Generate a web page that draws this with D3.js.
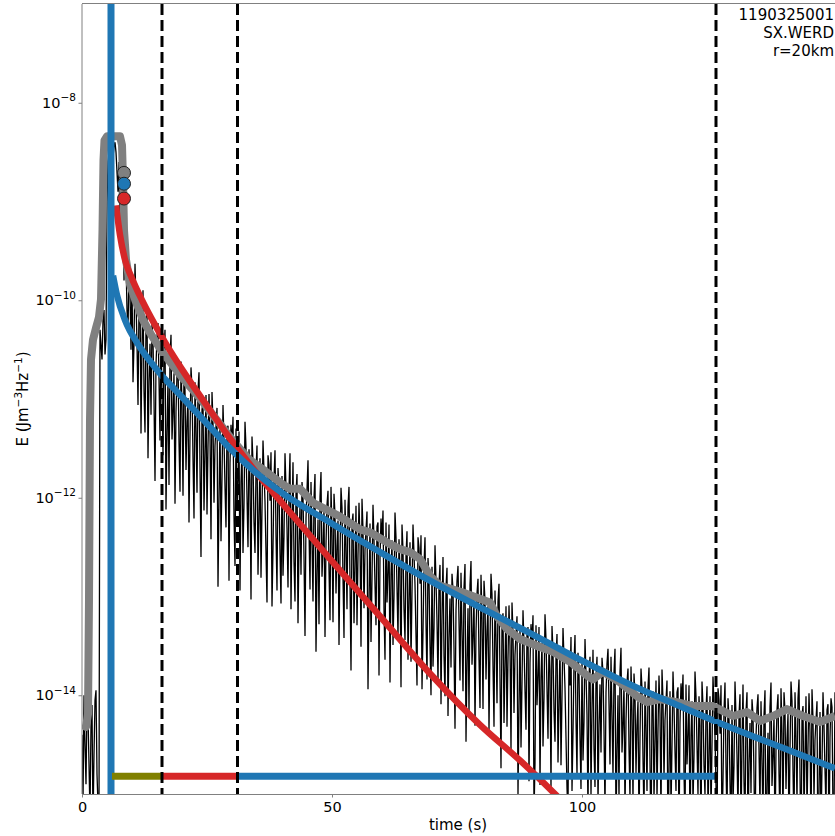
<!DOCTYPE html>
<html><head><meta charset="utf-8">
<script src="https://cdn.jsdelivr.net/npm/d3@7"></script>
<style>body{margin:0;background:#fff} svg{display:block} text{font-family:"DejaVu Sans",sans-serif;fill:#000}</style>
</head><body><svg id="c" width="835" height="836"></svg>
<script>
// ---------------- data ----------------
const sampleStep = 0.2; // s between samples of the raw energy envelope (log10 E)
const rawLogE = [
-14.4,-15.1,-14.0,-14.5,-14.9,-14.1,-14.2,-14.7,-15.2,-14.3,-14.1,-15.3,-14.6,-14.05,-13.95,-14.8,-15.1,-15.2,-10.3,-10.45,-10.6,-10.2,-10.1,-10.55,-10.4,-9.0,-8.6,-8.5,-8.4,-8.45,-8.5,-8.55,-8.45,-8.4,-8.5,-8.7,-8.9,-8.6,-9.3,-9.5,-9.2,-9.0,-9.8,-9.4,-9.6,-10.1,-10.3,-9.7,-9.9,-10.5,
-9.80,-10.83,-10.45,-9.63,-10.01,-10.44,-11.06,-10.09,-9.92,-11.35,-10.47,-9.90,-10.92,-11.34,-10.26,-10.08,-11.60,-10.82,-10.44,-11.16,-10.23,-10.40,-11.01,-11.83,-10.65,-10.37,-10.23,-10.80,-11.42,-10.34,-10.95,-11.57,-10.53,-10.30,-12.12,-11.34,-10.80,-11.87,-10.58,-10.35,-11.41,-11.13,-10.74,-12.06,-11.13,-10.75,-10.61,-11.43,-11.94,-10.62,
-11.07,-11.98,-10.69,-10.91,-11.72,-11.23,-10.99,-12.25,-11.37,-10.68,-10.89,-11.60,-12.21,-10.83,-11.29,-11.95,-10.91,-10.73,-11.69,-12.60,-11.11,-11.02,-12.13,-11.55,-10.96,-12.17,-11.48,-10.95,-11.36,-12.42,-10.93,-11.24,-12.05,-11.47,-11.28,-11.09,-12.90,-12.02,-11.23,-12.44,-11.80,-11.06,-11.42,-11.89,-12.30,-11.31,-11.27,-12.84,-11.65,-11.26,
-11.47,-11.18,-12.19,-12.69,-11.30,-12.11,-11.82,-11.33,-12.94,-11.84,-11.50,-12.56,-12.07,-11.23,-11.49,-11.99,-12.50,-11.51,-11.82,-13.03,-11.38,-11.64,-12.25,-12.56,-11.72,-11.47,-12.78,-12.19,-11.60,-12.81,-12.12,-11.42,-11.73,-12.04,-12.55,-13.06,-11.57,-11.67,-12.03,-11.54,-13.10,-12.51,-11.81,-11.52,-12.38,-12.94,-11.70,-11.91,-12.56,-13.07,
-11.78,-12.79,-12.39,-11.55,-11.90,-12.31,-12.91,-11.92,-11.55,-13.13,-12.23,-11.64,-12.65,-13.05,-11.96,-11.76,-13.27,-12.47,-12.08,-12.78,-11.84,-11.99,-12.60,-13.40,-12.21,-11.92,-11.62,-12.33,-12.93,-11.84,-12.44,-13.05,-12.00,-11.76,-13.56,-12.77,-12.22,-13.28,-11.99,-11.74,-12.80,-12.50,-12.11,-13.41,-12.47,-12.07,-11.93,-12.73,-13.24,-11.89,
-12.35,-13.26,-11.96,-12.17,-12.97,-12.48,-12.23,-13.49,-12.59,-11.90,-12.10,-12.81,-13.42,-12.02,-12.48,-13.13,-12.09,-11.89,-12.85,-13.75,-12.26,-12.16,-13.27,-12.67,-12.08,-13.29,-12.59,-12.05,-12.45,-13.51,-12.01,-12.32,-13.12,-12.53,-12.33,-12.14,-13.94,-13.05,-12.26,-13.46,-12.82,-12.07,-12.43,-12.88,-13.29,-12.29,-12.25,-13.80,-12.61,-12.21,
-12.42,-12.13,-13.13,-13.64,-12.25,-13.06,-12.76,-12.27,-13.87,-12.78,-12.43,-13.49,-12.99,-12.15,-12.40,-12.91,-13.41,-12.42,-12.72,-13.92,-12.27,-12.53,-13.13,-13.44,-12.59,-12.34,-13.64,-13.05,-12.45,-13.66,-12.96,-12.27,-12.57,-12.88,-13.39,-13.90,-12.40,-12.51,-12.87,-12.38,-13.94,-13.36,-12.68,-12.40,-13.27,-13.84,-12.61,-12.83,-13.49,-14.00,
-12.70,-13.71,-13.32,-12.48,-12.84,-13.25,-13.86,-12.87,-12.68,-14.09,-13.19,-12.60,-13.60,-14.01,-12.91,-12.71,-14.21,-13.42,-13.02,-13.72,-12.77,-12.93,-13.53,-14.34,-13.14,-12.84,-12.69,-13.25,-13.85,-12.76,-13.36,-13.96,-12.91,-12.67,-14.47,-13.67,-13.12,-14.18,-12.88,-12.64,-13.69,-13.40,-13.00,-14.31,-13.36,-12.97,-12.82,-13.63,-14.13,-12.78,
-13.23,-14.14,-12.84,-13.04,-13.84,-13.35,-13.10,-14.36,-13.46,-12.77,-12.98,-13.70,-14.32,-12.94,-13.41,-14.08,-13.05,-12.87,-13.83,-14.74,-13.25,-13.17,-14.28,-13.69,-13.10,-14.32,-13.63,-13.09,-13.50,-14.56,-13.06,-13.37,-14.18,-13.59,-13.39,-13.20,-15.01,-14.12,-13.32,-14.53,-13.88,-13.14,-13.49,-13.95,-14.35,-13.36,-13.31,-14.87,-13.67,-13.28,
-13.48,-13.19,-15.20,-14.69,-13.29,-14.10,-13.80,-13.31,-14.91,-13.82,-13.47,-14.52,-14.02,-13.18,-13.43,-13.94,-14.44,-13.45,-13.75,-14.95,-13.30,-13.56,-14.16,-14.47,-13.62,-13.38,-14.68,-14.09,-13.50,-14.71,-14.01,-13.32,-13.62,-13.93,-14.43,-14.94,-15.20,-13.55,-13.90,-13.41,-14.97,-14.38,-13.68,-13.39,-14.25,-14.81,-13.57,-13.78,-14.44,-14.95,
-13.65,-14.66,-14.27,-13.43,-13.79,-14.20,-15.20,-13.81,-13.61,-15.02,-14.13,-13.54,-14.54,-14.93,-13.82,-13.61,-15.10,-14.30,-13.89,-14.58,-13.62,-13.77,-14.36,-15.17,-13.97,-13.68,-13.53,-14.09,-14.70,-13.61,-14.21,-14.82,-13.77,-13.53,-15.34,-14.55,-14.00,-15.06,-13.76,-13.52,-14.58,-14.29,-13.89,-15.20,-14.26,-13.87,-13.73,-14.54,-15.05,-13.71,
-14.16,-15.07,-13.78,-13.99,-14.79,-14.30,-14.06,-15.32,-14.42,-13.73,-13.93,-14.64,-15.25,-13.86,-14.31,-14.97,-13.92,-13.72,-14.67,-15.57,-14.06,-13.96,-15.06,-14.46,-13.85,-15.05,-14.35,-13.80,-14.19,-15.24,-13.74,-14.05,-14.85,-14.25,-14.05,-13.85,-15.65,-14.76,-13.96,-15.16,-14.51,-13.76,-14.11,-14.57,-14.97,-13.97,-13.92,-15.48,-14.28,-13.88,
-14.08,-13.79,-14.79,-15.29,-13.89,-14.70,-14.40,-13.90,-15.50,-14.41,-14.06,-15.11,-14.61,-13.76,-14.01,-14.51,-15.01,-14.01,-14.31,-15.51,-13.86,-14.11,-14.71,-15.01,-14.16,-13.91,-15.21,-14.61,-14.01,-15.21,-14.51,-13.81,-14.11,-14.42,-14.92,-15.43,-13.93,-14.04,-14.39,-13.90,-15.45,-14.86,-14.16,-13.87,-14.72,-15.28,-14.03,-14.24,-14.89,-15.40,
-14.10,-15.11,-14.71,-13.86,-14.21,-14.61,-15.20,-14.20,-13.99,-15.39,-14.49,-13.89,-14.88,-15.28,-14.17,-13.97,-15.47,-14.68,-14.28,-14.99,-14.04,-14.20,-14.81,-15.62,-14.42,-14.13,-13.99,-14.55,-15.15,-14.06,-14.66,-15.26,-14.20,-13.95,-15.74,-14.94,-14.38,-15.43,-14.12,-13.87,-14.92,-14.62,-14.21,-15.51,-14.55,-14.15,-13.99,-14.79,-15.28,-13.93,
-14.38,-15.28,-13.97,-14.16,-14.95,-14.45,-14.19,-15.45,-14.55,-13.86,-14.06,-14.76,-15.36,-13.97,-14.42,-15.08,-14.03,-13.84,-14.79,-15.70,-14.20,-14.11,-15.21,-14.61,-14.01,-15.22,-14.52,-13.98,-14.38,-15.44,-13.94,-14.24,-15.04,-14.45,-14.25,-14.06,-15.86,-14.97,-14.17,-15.37,-14.72,-13.97,-14.31,-14.76,-15.15,-14.15,-14.09,-15.64,-14.43,-14.03,-14.12,-15.22,-15.22,-13.97,-14.21
];
// smoothed envelope (grey)
const grayT = [0,0.8,1.2,1.4,1.6,1.8,2.2,2.8,3.4,3.8,4.1,4.3,4.5,5.0,7.6,8.0,8.2,8.4,8.8,9.6,10.6,12.2,13.6,16.0,20.0,23.4,26.6,30.0,33.4,36.6,40.0,41.6,43.6,46.2,51.6,55.6,57.6,61.6,63.6,65.6,67.6,69.6,71.6,76.2,81.6,83.0,85.0,87.6,91.0,94.2,97.6,101.0,102.2,104.2,107.6,111.0,113.0,115.6,119.0,122.2,126.2,130.2,133.0,135.6,138.2,141.0,144.2,147.6,150.6];
const grayLogE = [-14.30,-14.32,-14.19,-13.03,-11.21,-10.60,-10.40,-10.28,-10.17,-9.99,-9.29,-8.58,-8.38,-8.34,-8.34,-8.43,-8.78,-9.29,-9.59,-9.84,-9.99,-10.20,-10.33,-10.52,-10.78,-10.98,-11.19,-11.41,-11.61,-11.73,-11.86,-11.91,-11.91,-12.05,-12.19,-12.32,-12.35,-12.47,-12.52,-12.55,-12.62,-12.79,-12.89,-12.96,-13.06,-13.20,-13.33,-13.43,-13.50,-13.56,-13.66,-13.80,-13.84,-13.76,-13.87,-14.01,-14.07,-14.04,-14.07,-14.11,-14.11,-14.21,-14.17,-14.26,-14.21,-14.14,-14.21,-14.27,-14.21];
// fitted decay models
const redT = [6.8,7.6,8.6,10.0,12.0,14.6,17.0,20.0,25.0,29.6,35.6,39.6,49.6,59.6,69.6,79.6,87.6,94.2,96.0];
const redLogE = [-9.04,-9.34,-9.59,-9.78,-10.00,-10.25,-10.46,-10.70,-11.07,-11.40,-11.79,-12.03,-12.62,-13.20,-13.78,-14.30,-14.66,-14.98,-15.07];
const blueT = [6.2,7.0,8.6,11.4,14.6,20.0,25.0,29.6,35.6,40.0,49.6,59.6,69.6,79.6,89.6,100,110,120,127,140,150.6];
const blueLogE = [-9.75,-9.95,-10.20,-10.46,-10.68,-10.98,-11.25,-11.50,-11.78,-11.95,-12.25,-12.55,-12.84,-13.11,-13.37,-13.65,-13.90,-14.12,-14.27,-14.53,-14.74];
const onsetTime = 5.8;
const windowTimes = [16.0, 31.1, 126.8];
const barStart = [6.0, 16.0, 31.1];
const barEnd = [16.0, 31.1, 126.8];
const barColors = ["#808000", "#d62728", "#1f77b4"];
const barLogE = -14.82;
const markerT = 8.4;
const markerLogE = [-8.71, -8.82, -8.97];
const markerColors = ["#808080", "#1f77b4", "#d62728"];
const xTicks = [0, 50, 100];
const yTickExp = [-8, -10, -12, -14];
const infoLines = ["1190325001", "SX.WERD", "r=20km"];

// ---------------- drawing ----------------
const L = 82, R = 834, T = 4, B = 794;
const svg = d3.select("#c");
const x = d3.scaleLinear().domain([0, 150.4]).range([L, R]);
const y = d3.scaleLog().domain([1e-15, 1e-7]).range([B, T]);
const E = v => Math.pow(10, v);

svg.append("defs").append("clipPath").attr("id", "clip")
  .append("rect").attr("x", L).attr("y", T).attr("width", R - L + 2).attr("height", B - T);
const g = svg.append("g").attr("clip-path", "url(#clip)");

const line = d3.line().x(d => x(d[0])).y(d => y(E(d[1])));
const smooth = d3.line().x(d => x(d[0])).y(d => y(E(d[1]))).curve(d3.curveMonotoneX);

g.append("path").datum(rawLogE.map((v, i) => [i * sampleStep, v]))
  .attr("d", line).attr("fill", "none").attr("stroke", "#000")
  .attr("stroke-width", 1.3).attr("stroke-linejoin", "miter");

g.append("path").datum(grayT.map((t, i) => [t, grayLogE[i]]))
  .attr("d", line).attr("fill", "none").attr("stroke", "#808080")
  .attr("stroke-width", 8).attr("stroke-linejoin", "round");

g.append("path").datum(redT.map((t, i) => [t, redLogE[i]]))
  .attr("d", smooth).attr("fill", "none").attr("stroke", "#d62728").attr("stroke-width", 6.5);
g.append("path").datum(blueT.map((t, i) => [t, blueLogE[i]]))
  .attr("d", smooth).attr("fill", "none").attr("stroke", "#1f77b4").attr("stroke-width", 6.5);

g.append("line").attr("x1", x(onsetTime)).attr("x2", x(onsetTime)).attr("y1", T).attr("y2", B)
  .attr("stroke", "#1f77b4").attr("stroke-width", 7);

barStart.forEach((s, i) => {
  g.append("line").attr("x1", x(s)).attr("x2", x(barEnd[i]))
    .attr("y1", y(E(barLogE))).attr("y2", y(E(barLogE)))
    .attr("stroke", barColors[i]).attr("stroke-width", 7);
});

windowTimes.forEach(t => {
  g.append("line").attr("x1", x(t)).attr("x2", x(t)).attr("y1", T).attr("y2", B)
    .attr("stroke", "#000").attr("stroke-width", 3).attr("stroke-dasharray", "11,5");
});

markerLogE.forEach((v, i) => {
  g.append("circle").attr("cx", x(markerT)).attr("cy", y(E(v))).attr("r", 6.5)
    .attr("fill", markerColors[i]).attr("stroke", "#222").attr("stroke-width", 1);
});

// spines
const spine = "#808080";
svg.append("line").attr("x1", L).attr("x2", L).attr("y1", T).attr("y2", B).attr("stroke", spine);
svg.append("line").attr("x1", L).attr("x2", 835).attr("y1", B + 0.5).attr("y2", B + 0.5).attr("stroke", spine);
svg.append("line").attr("x1", L).attr("x2", 835).attr("y1", T - 0.5).attr("y2", T - 0.5).attr("stroke", spine);

// x axis
const xa = svg.append("g").attr("transform", `translate(0,${B})`)
  .call(d3.axisBottom(x).tickValues(xTicks).tickSize(3.5).tickPadding(4).tickFormat(d3.format("d")));
xa.select(".domain").remove();
xa.selectAll("line").attr("stroke", spine);
xa.selectAll("text").style("font-size", "14.5px").attr("fill", "#000");

// y axis
const ya = svg.append("g").attr("transform", `translate(${L},0)`)
  .call(d3.axisLeft(y).tickValues(yTickExp.map(E)).tickSize(3.5).tickFormat(() => ""));
ya.select(".domain").remove();
ya.selectAll("line").attr("stroke", spine);
yTickExp.forEach(e => {
  const ty = y(E(e));
  const t = svg.append("text").attr("x", 76).attr("y", ty + 5).attr("text-anchor", "end").style("font-size", "14.5px");
  t.append("tspan").text("10");
  t.append("tspan").attr("dy", -6.5).style("font-size", "10.5px").text("\u2212" + Math.abs(e));
});

// labels
svg.append("text").attr("x", (L + R) / 2).attr("y", 830).attr("text-anchor", "middle")
  .style("font-size", "15px").text("time (s)");
const yl = svg.append("text").attr("transform", `translate(28,${(T + B) / 2}) rotate(-90)`)
  .attr("text-anchor", "middle").style("font-size", "15px");
yl.append("tspan").text("E (Jm");
yl.append("tspan").attr("dy", -6).style("font-size", "10.5px").text("\u22123");
yl.append("tspan").attr("dy", 6).text("Hz");
yl.append("tspan").attr("dy", -6).style("font-size", "10.5px").text("\u22121");
yl.append("tspan").attr("dy", 6).text(")");

infoLines.forEach((s, i) => {
  svg.append("text").attr("x", 834).attr("y", 20 + i * 18).attr("text-anchor", "end")
    .style("font-size", "15px").text(s);
});
</script></body></html>
